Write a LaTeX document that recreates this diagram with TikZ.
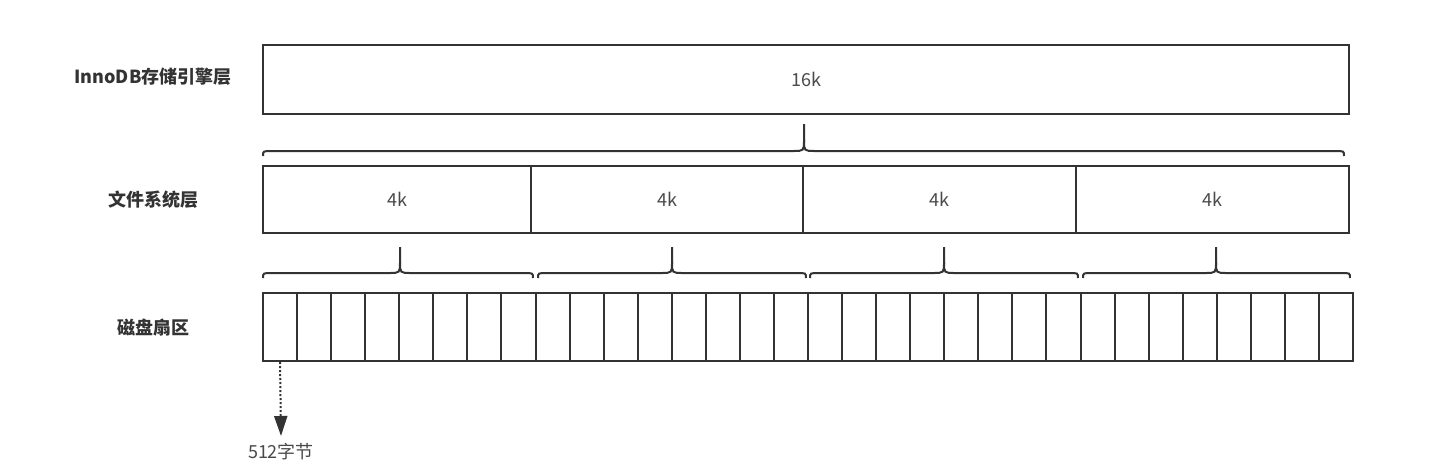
\documentclass[tikz,border=0pt]{standalone}
\usepackage{fontspec}
\setmainfont{Noto Sans CJK SC}
\usetikzlibrary{arrows.meta}
\definecolor{ln}{HTML}{333333}
\definecolor{tx}{HTML}{4A4A4A}
\tikzset{
  box/.style={draw=ln, line width=2pt, rectangle, inner sep=0pt, text=tx, font=\fontsize{18}{20}\selectfont},
  cell/.style={draw=ln, line width=2pt, rectangle, inner sep=0pt, minimum width=34.0625pt, minimum height=68pt},
  lbl/.style={font=\fontsize{18}{20}\selectfont\bfseries, text=ln},
  brc/.style={draw=ln, line width=2pt},
  dotarrow/.style={draw=ln, line width=2pt, dash pattern=on 2pt off 2pt, -{Triangle[width=13pt,length=20pt,fill=ln]}}
}
\newcommand\mybrace[5]{%
  \draw[brc] (#1,#4+5) .. controls (#1,#4) .. (#1+9,#4) -- (#3-11,#4) .. controls (#3,#4) .. (#3,#4-11) -- (#3,#5);
  \draw[brc] (#2,#4+5) .. controls (#2,#4) .. (#2-9,#4) -- (#3+11,#4) .. controls (#3,#4) .. (#3,#4-11);}
\begin{document}
\begin{tikzpicture}[x=1pt,y=-1pt]
\useasboundingbox[fill=white] (0,0) rectangle (1442,467);
% labels
\node[lbl] (t1) at (153,77) {InnoDB存储引擎层};
\node[lbl] (t2) at (153,200) {文件系统层};
\node[lbl] (t3) at (153,328) {磁盘扇区};
% top box
\node[box, minimum width=1086pt, minimum height=69pt] (L1) at (806,79.5) {16k};
% fs boxes
\node[box, minimum width=268pt, minimum height=67pt] (f1) at (397,199.5) {4k};
\node[box, minimum width=272pt, minimum height=67pt] (f2) at (667,199.5) {4k};
\node[box, minimum width=273pt, minimum height=67pt] (f3) at (939.5,199.5) {4k};
\node[box, minimum width=273pt, minimum height=67pt] (f4) at (1212.5,199.5) {4k};
% sectors
\foreach \i in {1,...,32}{
  \node[cell] (s\i) at ({263+34.0625*(\i-0.5)},327) {};
}
% braces
\mybrace{263}{1344}{804}{151}{124}
\mybrace{263}{533}{400}{273}{247}
\mybrace{538}{806}{672}{273}{247}
\mybrace{810}{1078}{944}{273}{247}
\mybrace{1083}{1350}{1216}{273}{247}
% arrow
\node[font=\fontsize{18}{20}\selectfont, text=tx] (b) at (281,452) {512字节};
\coordinate (tip) at (281,436);
\draw[dotarrow] (s1.south) -- (tip);
\end{tikzpicture}
\end{document}
